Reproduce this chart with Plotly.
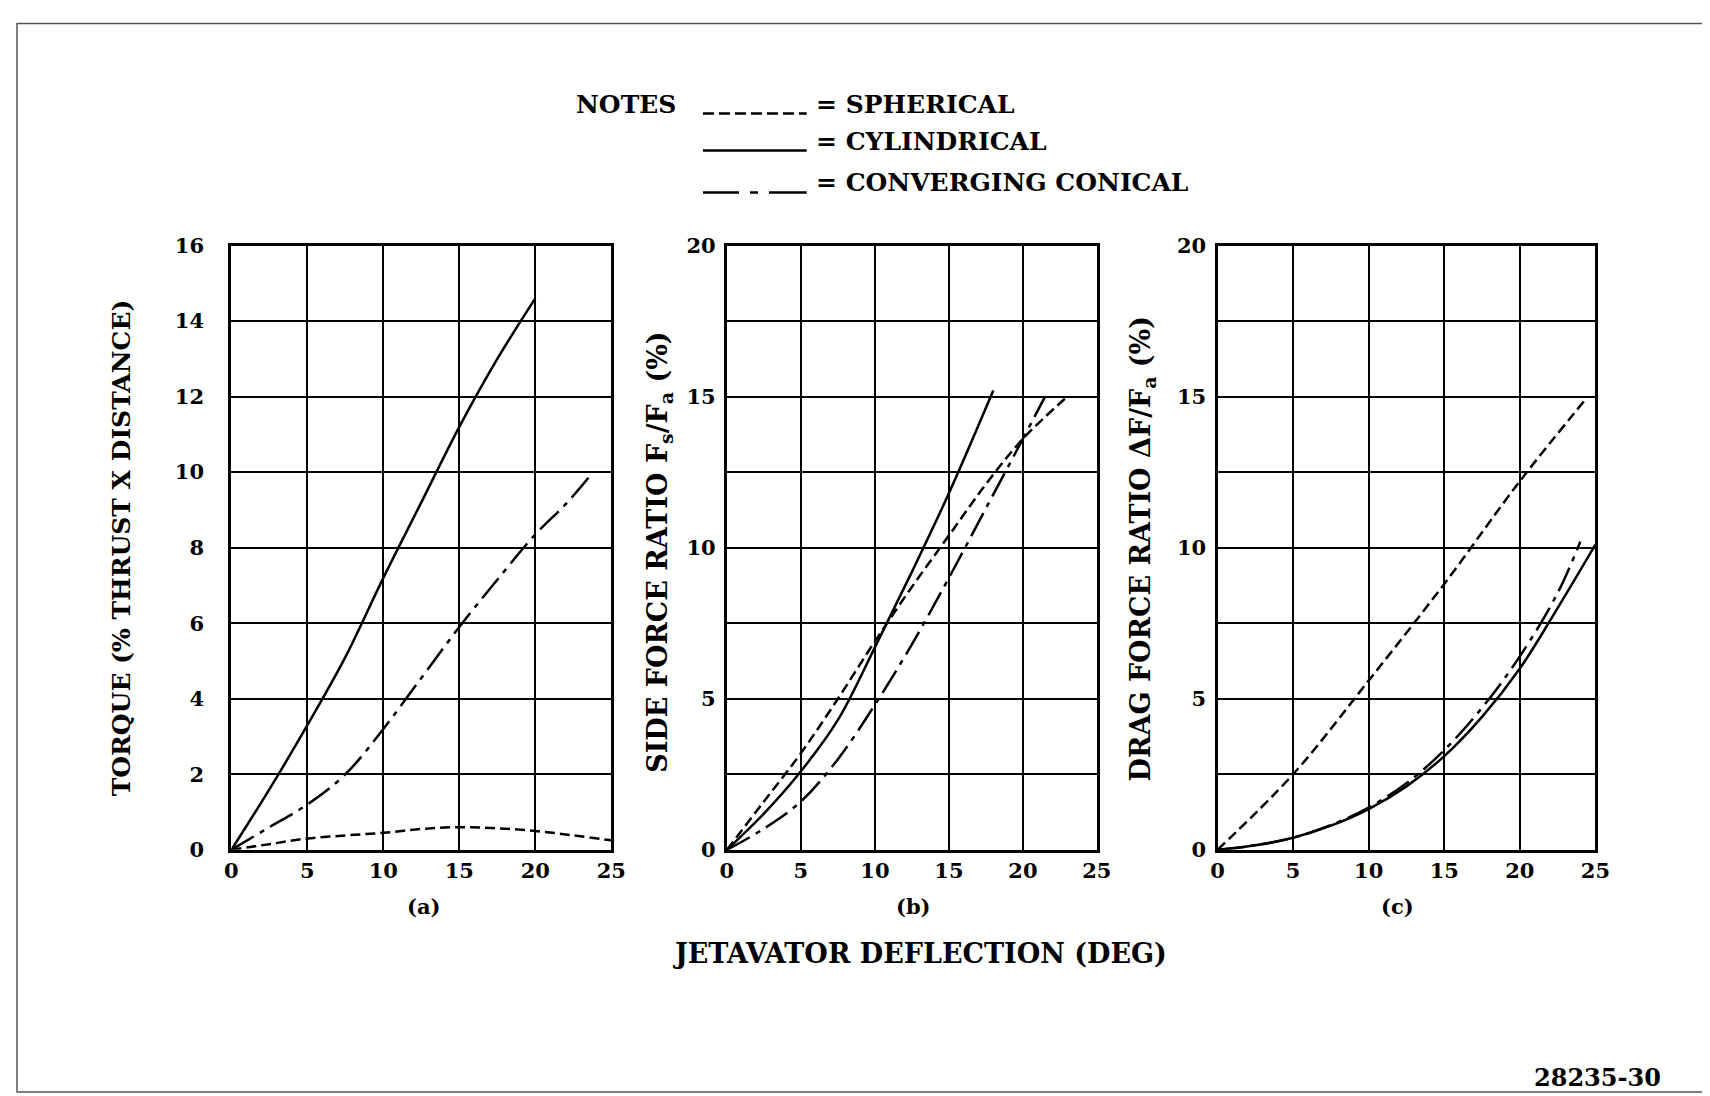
import plotly.graph_objects as go

# ---------------- data ----------------
# Panel (a): torque
a_cyl_x = [0, 2.5, 5, 7.5, 10, 12.5, 15, 17.5, 20]
a_cyl_y = [0, 1.6, 3.3, 5.1, 7.2, 9.2, 11.2, 13.0, 14.6]
a_con_x = [0, 2.5, 5, 7.5, 10, 12.5, 15, 17.5, 20, 22, 23.5]
a_con_y = [0, 0.6, 1.2, 2.0, 3.2, 4.55, 5.9, 7.15, 8.35, 9.15, 9.85]
a_sph_x = [0, 2.5, 5, 7.5, 10, 12.5, 15, 17.5, 20, 22.5, 25]
a_sph_y = [0, 0.15, 0.3, 0.38, 0.45, 0.55, 0.6, 0.57, 0.5, 0.38, 0.25]

# Panel (b): side force ratio
b_cyl_x = [0, 2.5, 5, 7.5, 10, 12.5, 15, 18]
b_cyl_y = [0, 1.2, 2.6, 4.3, 6.7, 9.2, 11.8, 15.2]
b_con_x = [0, 2.5, 5, 7.5, 10, 12.5, 15, 17.5, 20, 21.5]
b_con_y = [0, 0.7, 1.6, 3.0, 4.8, 6.8, 9.0, 11.3, 13.6, 15.0]
b_sph_x = [0, 2.5, 5, 7.5, 10, 12.5, 15, 17.5, 20, 23]
b_sph_y = [0, 1.6, 3.2, 5.0, 6.9, 8.7, 10.4, 12.1, 13.6, 15.0]

# Panel (c): drag force ratio
c_cyl_x = [0, 2.5, 5, 7.5, 10, 12.5, 15, 17.5, 20, 22.5, 25]
c_cyl_y = [0, 0.15, 0.4, 0.8, 1.35, 2.1, 3.1, 4.4, 6.0, 8.0, 10.1]
c_con_x = [0, 2.5, 5, 7.5, 10, 12.5, 15, 17.5, 20, 22.5, 24]
c_con_y = [0, 0.15, 0.4, 0.82, 1.4, 2.2, 3.3, 4.7, 6.4, 8.5, 10.2]
c_sph_x = [0, 5, 10, 15, 20, 24.5]
c_sph_y = [0, 2.5, 5.6, 8.8, 12.2, 15.0]

x_ticks = [0, 5, 10, 15, 20, 25]
a_y_ticks = [0, 2, 4, 6, 8, 10, 12, 14, 16]
bc_y_ticks = [0, 2.5, 5, 7.5, 10, 12.5, 15, 17.5, 20]
bc_y_text = ["0", "", "5", "", "10", "", "15", "", "20"]

legend_labels = ["= SPHERICAL", "= CYLINDRICAL", "= CONVERGING CONICAL"]

# ---------------- styling ----------------
FONT = "DejaVu Serif"
FW, FH = 1710, 1110
# page placement of the figure as observed in the photographed page
OX, OY, SX, SY = 11.0, 19.6, 0.99, 0.977
SPH_DASH = "10px,5px"
CON_DASH = "26px,7px,5px,7px"


def px(x):
    return max(0.0, (x - OX) / SX) / FW


def py(y):
    return 1 - max(0.0, (y - OY) / SY) / FH


fig = go.Figure()

panels = [
    ("x", "y", a_cyl_x, a_cyl_y, a_con_x, a_con_y, a_sph_x, a_sph_y),
    ("x2", "y2", b_cyl_x, b_cyl_y, b_con_x, b_con_y, b_sph_x, b_sph_y),
    ("x3", "y3", c_cyl_x, c_cyl_y, c_con_x, c_con_y, c_sph_x, c_sph_y),
]
for xa, ya, cx, cy, kx, ky, sx, sy in panels:
    fig.add_trace(go.Scatter(x=sx, y=sy, mode="lines", xaxis=xa, yaxis=ya,
                             line=dict(color="black", width=2.5, dash=SPH_DASH, shape="spline"),
                             showlegend=False))
    fig.add_trace(go.Scatter(x=cx, y=cy, mode="lines", xaxis=xa, yaxis=ya,
                             line=dict(color="black", width=2.5, shape="spline"),
                             showlegend=False))
    fig.add_trace(go.Scatter(x=kx, y=ky, mode="lines", xaxis=xa, yaxis=ya,
                             line=dict(color="black", width=2.5, dash=CON_DASH, shape="spline"),
                             showlegend=False))

y_dom = [py(848), py(244)]
x_doms = [[px(228), px(609)], [px(725), px(1096)], [px(1217), px(1596)]]

tickfont = dict(family=FONT, size=21, color="black", weight="bold")
common_x = dict(range=[0, 25], tickvals=x_ticks, showgrid=True, gridcolor="black",
                gridwidth=1.8, zeroline=False, showline=True, linecolor="black",
                linewidth=3.2, mirror=True, ticks="", ticklabelstandoff=0,
                tickfont=tickfont, fixedrange=True)
common_y = dict(showgrid=True, gridcolor="black", gridwidth=1.8, zeroline=False,
                showline=True, linecolor="black", linewidth=3.2, mirror=True, ticks="",
                tickfont=tickfont, fixedrange=True)

fig.update_layout(
    width=FW, height=FH,
    margin=dict(l=0, r=0, t=0, b=0),
    paper_bgcolor="white", plot_bgcolor="white",
    showlegend=False,
    xaxis=dict(domain=x_doms[0], anchor="y", **common_x),
    yaxis=dict(domain=y_dom, anchor="x", range=[0, 16], tickvals=a_y_ticks,
               ticklabelstandoff=20, **common_y),
    xaxis2=dict(domain=x_doms[1], anchor="y2", **common_x),
    yaxis2=dict(domain=y_dom, anchor="x2", range=[0, 20], tickvals=bc_y_ticks,
                ticktext=bc_y_text, ticklabelstandoff=4, **common_y),
    xaxis3=dict(domain=x_doms[2], anchor="y3", **common_x),
    yaxis3=dict(domain=y_dom, anchor="x3", range=[0, 20], tickvals=bc_y_ticks,
                ticktext=bc_y_text, ticklabelstandoff=4, **common_y),
)

ann = []


def text(x, y, s, size=22, angle=0, xanchor="center"):
    ann.append(dict(x=px(x), y=py(y), xref="paper", yref="paper", text=s,
                    showarrow=False, textangle=angle, xanchor=xanchor, yanchor="middle",
                    font=dict(size=size, family=FONT, color="black", weight="bold")))


# y axis titles
text(118, 546, "TORQUE (% THRUST X DISTANCE)", size=25, angle=-90)
text(658, 551, "SIDE FORCE RATIO F<sub>s</sub>/F<sub>a</sub> (%)", size=27, angle=-90)
text(1142, 547, "DRAG FORCE RATIO \u0394F/F<sub>a</sub> (%)", size=27, angle=-90)

# panel labels
text(421, 905, "(a)", size=21)
text(912, 905, "(b)", size=21)
text(1398, 905, "(c)", size=21)

text(919, 952, "JETAVATOR DEFLECTION (DEG)", size=27)
text(1598, 1076, "28235-30", size=24)

# notes / legend
text(572, 103, "NOTES", size=25, xanchor="left")
leg_y_text = [103, 140, 181]
for lbl, yy in zip(legend_labels, leg_y_text):
    text(812, yy, lbl, size=25, xanchor="left")

fig.update_layout(annotations=ann)

shapes = []
# legend samples
shapes.append(dict(type="line", xref="paper", yref="paper", x0=px(701), x1=px(805),
                   y0=py(112), y1=py(112), line=dict(color="black", width=2.5, dash="11px,5px")))
shapes.append(dict(type="line", xref="paper", yref="paper", x0=px(701), x1=px(805),
                   y0=py(149), y1=py(149), line=dict(color="black", width=2.5)))
shapes.append(dict(type="line", xref="paper", yref="paper", x0=px(701), x1=px(805),
                   y0=py(191), y1=py(191),
                   line=dict(color="black", width=2.5, dash="36px,11px,8px,11px,40px")))
# page frame
shapes.append(dict(type="rect", xref="paper", yref="paper", x0=px(13), x1=px(1704),
                   y0=py(1090), y1=py(22), line=dict(color="#555555", width=1.5)))
fig.update_layout(shapes=shapes)

fig.write_html("out.html")
